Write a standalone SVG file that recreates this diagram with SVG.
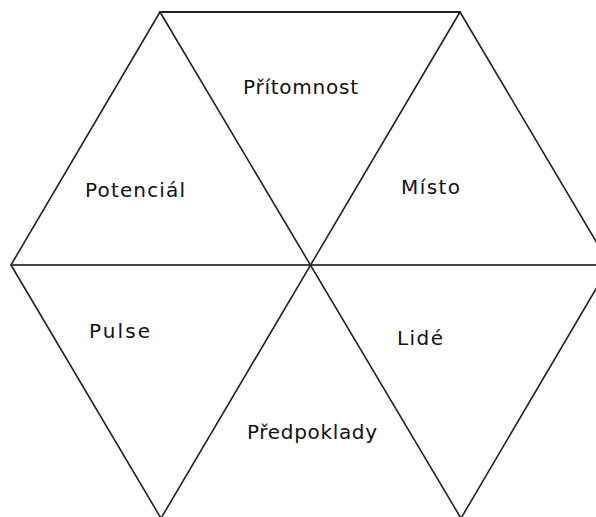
<svg xmlns="http://www.w3.org/2000/svg" width="596" height="517" viewBox="0 0 596 517">
<style>
.edge{stroke:#222;stroke-width:1.6;fill:none;stroke-linecap:round}
.lbl{font-family:"DejaVu Sans",sans-serif;font-size:20px;fill:#111}
</style>
<rect width="596" height="517" fill="#fff"/>
<g id="connectors">
<line class="edge" x1="160" y1="12" x2="460" y2="12" stroke="#555" style="stroke-width:2.2"/>
<line class="edge" x1="160" y1="12" x2="11" y2="265"/>
<line class="edge" x1="11" y1="265" x2="162" y2="520"/>
<line class="edge" x1="460" y1="12" x2="610" y2="265"/>
<line class="edge" x1="610" y1="265" x2="460" y2="520"/>
<line class="edge" x1="11" y1="265" x2="596" y2="265" style="stroke:#444;stroke-width:2.2"/>
<line class="edge" x1="160" y1="12" x2="462" y2="520"/>
<line class="edge" x1="460" y1="12" x2="160" y2="520"/>
</g>
<g id="n-pritomnost"><text class="lbl" x="243" y="94" textLength="115" lengthAdjust="spacing">Přítomnost</text></g>
<g id="n-potencial"><text class="lbl" x="85" y="197" textLength="100" lengthAdjust="spacing">Potenciál</text></g>
<g id="n-misto"><text class="lbl" x="401" y="194" textLength="59" lengthAdjust="spacing">Místo</text></g>
<g id="n-pulse"><text class="lbl" x="89" y="338" textLength="61" lengthAdjust="spacing">Pulse</text></g>
<g id="n-lide"><text class="lbl" x="397" y="345" textLength="46" lengthAdjust="spacing">Lidé</text></g>
<g id="n-predpoklady"><text class="lbl" x="247" y="439" textLength="130" lengthAdjust="spacing">Předpoklady</text></g>
</svg>
